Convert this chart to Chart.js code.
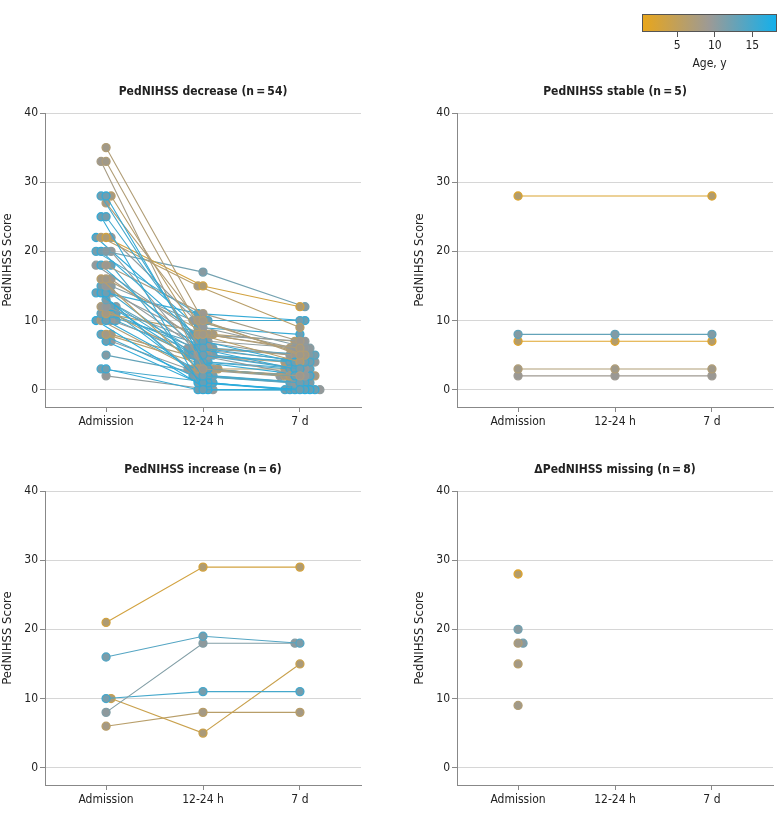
<!DOCTYPE html>
<html>
<head>
<meta charset="utf-8">
<script src="https://cdn.jsdelivr.net/npm/chart.js@4.4.1/dist/chart.umd.min.js"></script>
<style>
  body { margin: 0; background: #fff; width: 783px; height: 817px; position: relative; overflow: hidden; }
  .box { position: absolute; }
</style>
</head>
<body>
<div class="box" style="left:630px;top:0;width:153px;height:75px"><canvas id="cbar"></canvas></div>
<div class="box" style="left:0;top:70px;width:370px;height:367px"><canvas id="c1"></canvas></div>
<div class="box" style="left:412px;top:70px;width:370px;height:367px"><canvas id="c2"></canvas></div>
<div class="box" style="left:0;top:448px;width:370px;height:367px"><canvas id="c3"></canvas></div>
<div class="box" style="left:412px;top:448px;width:370px;height:367px"><canvas id="c4"></canvas></div>
<script>
// time points and ticks
const timepoints = ['Admission', '12-24 h', '7 d'];
const yTicks = [0, 10, 20, 30, 40];
const ageTicks = [5, 10, 15];

// PedNIHSS decrease (n = 54)
const decAdmission = [35, 33, 33, 28, 28, 28, 27, 25, 25, 22, 22, 22, 20, 20, 20, 20, 18, 18, 18, 18, 16, 16, 16, 15, 15, 15, 14, 14, 14, 14, 13, 12, 12, 12, 12, 11, 11, 11, 11, 10, 10, 10, 10, 10, 8, 8, 8, 7, 7, 5, 3, 3, 2, 22];
const decH24 = [10, 8, 3, 3, 5, 8, 10, 6, 0, 15, 15, 9, 17, 7, 5, 10, 11, 6, 2, 7, 8, 3, 6, 5, 10, 4, 11, 1, 8, 5, 6, 7, 4, 3, 2, 8, 5, 6, 1, 2, 6, 3, 4, 0, 3, 2, 5, 1, 3, 2, 0, 1, 0, 9];
const decD7 = [5, 6, 2, 2, 3, 4, 5, 4, 0, 12, 9, 6, 12, 4, 2, 10, 7, 3, 1, 6, 6, 2, 5, 3, 6, 3, 10, 0, 7, 4, 5, 5, 2, 2, 1, 7, 4, 5, 0, 1, 4, 2, 3, 0, 3, 1, 4, 0, 2, 1, 0, 0, 0, 8];
const decAge = [7, 7, 8, 16, 15, 6, 7, 15, 16, 3, 6, 10, 12, 16, 10, 15, 8, 16, 15, 10, 7, 6, 8, 10, 11, 15, 16, 17, 10, 15, 13, 10, 16, 7, 11, 6, 15, 14, 16, 16, 10, 7, 15, 17, 6, 15, 7, 16, 10, 13, 16, 15, 10, 16];

// PedNIHSS stable (n = 5)
const stbAdmission = [28, 8, 7, 3, 2];
const stbH24 = [null, 8, 7, 3, 2];
const stbD7 = [28, 8, 7, 3, 2];
const stbAge = [2, 13, 1.5, 7, 9];

// PedNIHSS increase (n = 6)
const incAdmission = [21, 16, 8, 10, 10, 6];
const incH24 = [29, 19, 18, 11, 5, 8];
const incD7 = [29, 18, 18, 11, 15, 8];
const incAge = [3, 14, 11, 15, 4, 6];

// ΔPedNIHSS missing (n = 8)
const misAdmission = [28, 20, 18, 18, 15, 9];
const misAge = [1.5, 12, 7, 12, 6, 7];

const FONT = '"DejaVu Sans Condensed", "DejaVu Sans", sans-serif';
const INK = '#222';

// colour scale for age
const AGE_MIN = 0.3, AGE_MAX = 18.3;
const colorStops = [[0, [233, 166, 26]], [0.5, [156, 154, 150]], [1, [18, 176, 236]]];
function ageRGB(a) {
  let t = Math.min(1, Math.max(0, (a - AGE_MIN) / (AGE_MAX - AGE_MIN)));
  for (let i = 1; i < colorStops.length; i++) {
    const [t0, c0] = colorStops[i - 1], [t1, c1] = colorStops[i];
    if (t <= t1) {
      const f = (t - t0) / (t1 - t0);
      return c0.map((c, k) => Math.round(c + (c1[k] - c) * f));
    }
  }
  return colorStops[colorStops.length - 1][1];
}
const rgb = c => `rgb(${c[0]},${c[1]},${c[2]})`;
const fillOf = c => rgb(c.map(v => Math.round(v * 0.4 + 150 * 0.6)));

// small horizontal dodge so that points at equal scores do not hide each other
const PX_X = 97, PX_Y = 6.9, GAP = 5;
function dodge(rows) {
  const xs = rows.map(r => r.map(() => 0));
  for (let t = 0; t < 3; t++) {
    const idx = rows.map((r, i) => i).filter(i => rows[i][t] != null)
      .sort((a, b) => rows[b][t] - rows[a][t]);
    const placed = [];
    idx.forEach((i, n) => {
      const y = rows[i][t] * PX_Y;
      const side = n % 2 ? 1 : -1;
      let off = 0;
      for (let k = 0; k < 200; k++) {
        off = (k % 2 ? side : -side) * Math.ceil(k / 2) * 0.5;
        if (placed.every(p => Math.hypot(p.x - off, p.y - y) >= GAP)) break;
      }
      placed.push({ x: off, y });
      xs[i][t] = t + off / PX_X;
    });
  }
  return xs;
}

const panelTitle = {
  id: 'panelTitle',
  afterDraw(chart, args, opts) {
    const { ctx, chartArea } = chart;
    ctx.save();
    ctx.font = 'bold 12px ' + FONT;
    ctx.fillStyle = INK;
    ctx.textAlign = 'center';
    ctx.textBaseline = 'middle';
    ctx.fillText(opts.text, (chartArea.left + chartArea.right) / 2, chartArea.top - 21.5);
    ctx.restore();
  }
};

function makePanel(id, title, cols, ages) {
  const rows = ages.map((a, i) => cols.map(c => (c ? c[i] : null)));
  const xs = dodge(rows);
  const datasets = rows.map((r, i) => {
    const c = ageRGB(ages[i]);
    return {
      data: r.map((v, t) => (v == null ? null : { x: xs[i][t], y: v })).filter(p => p),
      showLine: true,
      borderColor: rgb(c),
      borderWidth: 1.1,
      pointRadius: 4,
      pointBorderWidth: 1.3,
      pointBackgroundColor: fillOf(c),
      pointBorderColor: rgb(c)
    };
  });
  new Chart(document.getElementById(id), {
    type: 'scatter',
    data: { datasets },
    plugins: [panelTitle],
    options: {
      responsive: true,
      maintainAspectRatio: false,
      animation: false,
      layout: { padding: { top: 43, right: 9, left: 0, bottom: 0 } },
      plugins: {
        legend: { display: false },
        tooltip: { enabled: false },
        panelTitle: { text: title }
      },
      scales: {
        x: {
          type: 'linear', min: -0.63, max: 2.63,
          afterBuildTicks: s => { s.ticks = timepoints.map((_, i) => ({ value: i })); },
          afterFit: s => { s.height = 30; },
          ticks: { callback: v => timepoints[v], font: { family: FONT, size: 12 }, color: INK, padding: 3, autoSkip: false, maxRotation: 0 },
          grid: { drawOnChartArea: false, tickLength: 5, tickColor: '#888' },
          border: { color: '#888' }
        },
        y: {
          min: -2.5, max: 40,
          afterBuildTicks: s => { s.ticks = yTicks.map(v => ({ value: v })); },
          afterFit: s => { s.width = 45; },
          ticks: { font: { family: FONT, size: 12 }, color: INK, padding: 2 },
          grid: { color: '#d6d6d6', tickLength: 5, tickColor: '#888' },
          border: { color: '#888' },
          title: { display: true, text: 'PedNIHSS Score', font: { family: FONT, size: 13 }, color: INK, padding: 0 }
        }
      }
    }
  });
}

makePanel('c1', 'PedNIHSS decrease (n\u2009=\u200954)', [decAdmission, decH24, decD7], decAge);
makePanel('c2', 'PedNIHSS stable (n\u2009=\u20095)', [stbAdmission, stbH24, stbD7], stbAge);
makePanel('c3', 'PedNIHSS increase (n\u2009=\u20096)', [incAdmission, incH24, incD7], incAge);
makePanel('c4', '\u0394PedNIHSS missing (n\u2009=\u20098)', [misAdmission, null, null], misAge);

// colour bar legend
const gradientBar = {
  id: 'gradientBar',
  beforeDatasetsDraw(chart) {
    const { ctx, chartArea: a } = chart;
    const sx = chart.scales.x;
    const x0 = sx.getPixelForValue(AGE_MIN), x1 = sx.getPixelForValue(AGE_MAX);
    const g = ctx.createLinearGradient(x0, 0, x1, 0);
    colorStops.forEach(([t, c]) => g.addColorStop(t, rgb(c)));
    ctx.save();
    ctx.fillStyle = g;
    ctx.fillRect(a.left, a.top, a.right - a.left, a.bottom - a.top);
    ctx.strokeStyle = '#555';
    ctx.lineWidth = 1;
    ctx.strokeRect(a.left + 0.5, a.top + 0.5, a.right - a.left - 1, a.bottom - a.top - 1);
    ctx.restore();
  }
};

new Chart(document.getElementById('cbar'), {
  type: 'scatter',
  data: { datasets: [] },
  plugins: [gradientBar],
  options: {
    responsive: true,
    maintainAspectRatio: false,
    animation: false,
    layout: { padding: { top: 14, left: 12, right: 6, bottom: 0 } },
    plugins: { legend: { display: false }, tooltip: { enabled: false } },
    scales: {
      x: {
        type: 'linear', min: AGE_MIN, max: AGE_MAX,
        afterBuildTicks: s => { s.ticks = ageTicks.map(v => ({ value: v })); },
        afterFit: s => { s.height = 43; },
        ticks: { font: { family: FONT, size: 12 }, color: INK, padding: 2, maxRotation: 0 },
        grid: { drawOnChartArea: false, tickLength: 5, tickColor: '#555' },
        border: { display: false },
        title: { display: true, text: 'Age, y', font: { family: FONT, size: 12 }, color: INK, padding: { top: 0, bottom: 4 } }
      },
      y: { display: false, min: 0, max: 1 }
    }
  }
});
</script>
</body>
</html>
